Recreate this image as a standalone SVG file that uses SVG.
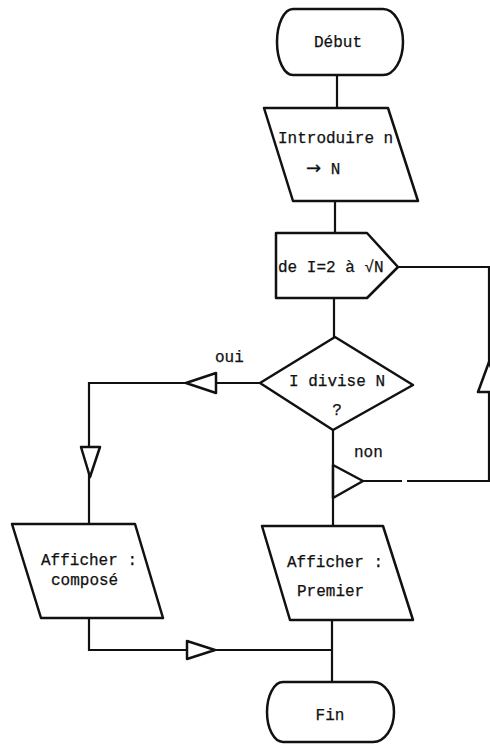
<svg xmlns="http://www.w3.org/2000/svg" width="490" height="745" viewBox="0 0 490 745">
<style>
.s{fill:#fff;stroke:#111;stroke-width:2.5;stroke-linejoin:round}
.l{fill:none;stroke:#111;stroke-width:2.2}
.a{fill:#fff;stroke:#111;stroke-width:2.5;stroke-linejoin:round}
text{font-family:"Liberation Mono","Courier New",monospace;font-size:16px;fill:#111;stroke:#111;stroke-width:0.25}
.c{text-anchor:middle}
.ar{font-family:"DejaVu Sans",sans-serif;font-size:18px}
</style>
<rect width="490" height="745" fill="#fff"/>
<g id="connectors">
<path class="l" d="M337,75 V108"/>
<path class="l" d="M335,201 V233"/>
<path class="l" d="M334,298 V337"/>
<path class="l" d="M260,383 H89 V524"/>
<path class="l" d="M333,430 V526"/>
<path class="l" d="M363,481 H402 M407,481 H489 V267 H398"/>
<path class="l" d="M89,618 V650 H332"/>
<path class="l" d="M332,620 V682"/>
<polygon class="a" points="186,383 216,373 216,393"/>
<polygon class="a" points="90,477 81,447 100,447"/>
<polygon class="a" points="333,465 363,481 333,498"/>
<polygon class="a" points="489,362 478,392 500,392"/>
<polygon class="a" points="215,650 187,641 187,659"/>
</g>
<g id="debut">
<path class="s" d="M293,9 H383 A20,33 0 0 1 383,75 H293 A16,33 0 0 1 293,9 Z"/>
<text class="c" x="338" y="47">Début</text>
</g>
<g id="introduire">
<polygon class="s" points="264,108 388,108 418,201 293,201"/>
<text x="278" y="143">Introduire n</text>
<text x="306" y="174"><tspan class="ar">→</tspan> N</text>
</g>
<g id="boucle">
<polygon class="s" points="276,233 367,233 398,267 367,298 276,298"/>
<text x="278" y="272">de I=2 à √N</text>
</g>
<g id="test">
<polygon class="s" points="335,337 413,385 333,430 260,383"/>
<text x="289" y="386">I divise N</text>
<text class="c" x="337" y="415">?</text>
<text x="215" y="362">oui</text>
<text x="354" y="457">non</text>
</g>
<g id="compose">
<polygon class="s" points="12,524 135,524 163,618 41,618"/>
<text x="41" y="565">Afficher :</text>
<text x="51" y="585">composé</text>
</g>
<g id="premier">
<polygon class="s" points="262,526 383,526 413,620 290,620"/>
<text x="287" y="567">Afficher :</text>
<text x="297" y="596">Premier</text>
</g>
<g id="fin">
<path class="s" d="M283,682 H373 A21,30 0 0 1 373,742 H283 A16,30 0 0 1 283,682 Z"/>
<text class="c" x="330" y="720">Fin</text>
</g>
</svg>
